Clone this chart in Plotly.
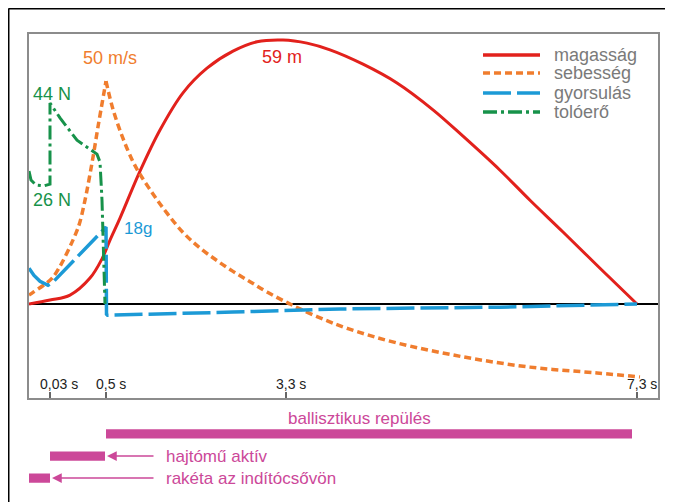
import plotly.graph_objects as go

# Schematic rocket flight (x = schematic time position, y = common display scale)
TICK_POS = [21, 77, 257, 608]
TICK_LABELS = ["0,03 s", "0,5 s", "3,3 s", "7,3 s"]

height_x = [0, 21, 41, 61, 73, 81, 91, 111, 131, 154, 178, 204, 228, 254, 278, 301, 334, 368, 404, 434, 471, 501, 534, 571, 608]
height_y = [0, 0.9, 2.0, 5.8, 10.1, 14.3, 19.2, 29.7, 38.9, 47.2, 52.7, 56.5, 58.6, 59.0, 58.3, 56.8, 53.6, 49.4, 43.4, 37.5, 29.9, 23.2, 16.1, 8.0, 0]

vel_up_x = [0, 4, 24, 49, 56, 64, 69, 77]
vel_up_y = [2.0, 2.6, 6.0, 17.0, 23.2, 32.8, 39.6, 49.8]
vel_down_x = [77, 84, 94, 104, 111, 124, 138, 154, 171, 188, 204, 221, 238, 261, 288, 319, 368, 434, 501, 568, 611]
vel_down_y = [49.8, 43.5, 37.0, 31.8, 29.0, 24.6, 20.3, 16.0, 12.5, 9.7, 7.3, 5.0, 2.7, 0, -2.8, -5.5, -8.7, -11.8, -14.1, -15.4, -16.3]

acc_x = [0, 5, 11, 19, 24, 77, 77.5, 78.5, 204, 311, 471, 608]
acc_y = [8.0, 6.4, 5.1, 4.2, 4.9, 17.2, -2.3, -2.5, -1.8, -1.1, -0.7, 0]

thrust_x = [0, 2, 7, 15, 21, 21, 31, 48, 68, 71, 73, 75, 76]
thrust_y = [29.7, 27.7, 26.6, 26.4, 26.8, 44.9, 41.6, 36.6, 33.5, 31.7, 23.2, 9.8, 0]

phase_names = ["ballisztikus repülés", "hajtómű aktív", "rakéta az indítócsővön"]
phase_start = [77, 21, 0]
phase_end = [603, 76, 21]
phase_row = [2, 1, 0]

RED = "#e2211c"
ORANGE = "#f07d2e"
BLUE = "#1c9ad6"
GREEN = "#17924a"
MAGENTA = "#cc4899"
FONT = "Liberation Sans, Arial, sans-serif"

fig = go.Figure()
fig.add_trace(go.Scatter(x=height_x, y=height_y, mode="lines", line=dict(color=RED, width=3, shape="spline", smoothing=1.0)))
fig.add_trace(go.Scatter(x=vel_up_x, y=vel_up_y, mode="lines", line=dict(color=ORANGE, width=3.5, dash="7px,4px", shape="spline", smoothing=0.8)))
fig.add_trace(go.Scatter(x=vel_down_x, y=vel_down_y, mode="lines", line=dict(color=ORANGE, width=3.5, dash="7px,4px", shape="spline", smoothing=1.0)))
fig.add_trace(go.Scatter(x=acc_x, y=acc_y, mode="lines", line=dict(color=BLUE, width=3.5, dash="28px,6px")))
fig.add_trace(go.Scatter(x=thrust_x, y=thrust_y, mode="lines", line=dict(color=GREEN, width=3, dash="14px,4px,3px,4px")))

# timeline bars
fig.add_trace(go.Bar(
    x=[e - s for s, e in zip(phase_start, phase_end)], base=phase_start, y=phase_row,
    orientation="h", width=0.42, marker=dict(color=MAGENTA, line=dict(width=0)),
    xaxis="x", yaxis="y2", hoverinfo="skip"))

ann = []
# curve labels
ann.append(dict(x=81, y=55.0, text="50 m/s", font=dict(color=ORANGE, size=18)))
ann.append(dict(x=253, y=55.2, text="59 m", font=dict(color=RED, size=18)))
ann.append(dict(x=23, y=46.9, text="44 N", font=dict(color=GREEN, size=18)))
ann.append(dict(x=23, y=23.2, text="26 N", font=dict(color=GREEN, size=18)))
ann.append(dict(x=109, y=16.8, text="18g", font=dict(color=BLUE, size=17)))
for a in ann:
    a.update(xref="x", yref="y", showarrow=False)

# tick labels inside the plot
for p, t in zip(TICK_POS, TICK_LABELS):
    ann.append(dict(x=p, y=-17.9, xref="x", yref="y", text=t, showarrow=False,
                    xanchor="left", yanchor="middle", xshift=-12, font=dict(color="#222222", size=14)))

# phase labels and arrows
ann.append(dict(x=330, y=2.72, xref="x", yref="y2", text=phase_names[0], showarrow=False,
                yanchor="middle", font=dict(color=MAGENTA, size=17)))
for i in (1, 2):
    ann.append(dict(x=phase_end[i] + 2, y=phase_row[i], xref="x", yref="y2",
                    ax=126, ay=phase_row[i], axref="x", ayref="y2", text="",
                    showarrow=True, arrowhead=2, arrowsize=1.3, arrowwidth=1.5, arrowcolor=MAGENTA))
    ann.append(dict(x=135, y=phase_row[i], xref="x", yref="y2", text=phase_names[i], showarrow=False,
                    xanchor="left", yanchor="middle", font=dict(color=MAGENTA, size=17)))

# custom legend
leg_names = ["magasság", "sebesség", "gyorsulás", "tolóerő"]
leg_colors = [RED, ORANGE, BLUE, GREEN]
leg_dash = ["solid", "7px,4px", "28px,6px", "14px,4px,3px,4px"]
leg_y = [0.9547, 0.9159, 0.8728, 0.8319]
shapes = []
for n, c, d, yy in zip(leg_names, leg_colors, leg_dash, leg_y):
    shapes.append(dict(type="line", xref="paper", yref="paper", x0=0.7218, x1=0.8124, y0=yy, y1=yy,
                       line=dict(color=c, width=3.5, dash=d)))
    ann.append(dict(x=0.8331, y=yy, xref="paper", yref="paper", text=n, showarrow=False,
                    xanchor="left", yanchor="middle", borderpad=0, font=dict(color="#7a7a7a", size=18)))

# outer frame (top and left edges)
shapes.append(dict(type="line", xref="paper", yref="paper", x0=-0.0326, x1=1.03, y0=1.055, y1=1.055,
                   line=dict(color="black", width=2)))
shapes.append(dict(type="line", xref="paper", yref="paper", x0=-0.0326, x1=-0.0326, y0=-0.02, y1=1.055,
                   line=dict(color="black", width=2)))

# the page body adds an 8px offset, so the figure is 8px smaller
fig.update_layout(
    width=665, height=494,
    margin=dict(l=21, r=15, t=26, b=4),
    paper_bgcolor="white", plot_bgcolor="white",
    showlegend=False,
    font=dict(family=FONT),
    xaxis=dict(range=[0, 629], tickvals=TICK_POS, ticktext=TICK_LABELS, showticklabels=False,
               ticks="inside", ticklen=6, tickwidth=1.5, tickcolor="#666666",
               showline=True, mirror=True, linecolor="#8c8c8c", linewidth=2,
               showgrid=False, zeroline=False, anchor="y"),
    yaxis=dict(range=[-21.0, 60.34], domain=[0.2155, 1], showticklabels=False, ticks="",
               showline=True, mirror=True, linecolor="#8c8c8c", linewidth=2,
               showgrid=False, zeroline=True, zerolinecolor="black", zerolinewidth=2),
    yaxis2=dict(range=[-0.9, 3.3], domain=[0, 0.2], visible=False, anchor="x"),
    annotations=ann,
    shapes=shapes,
)

fig.write_html("out.html")
